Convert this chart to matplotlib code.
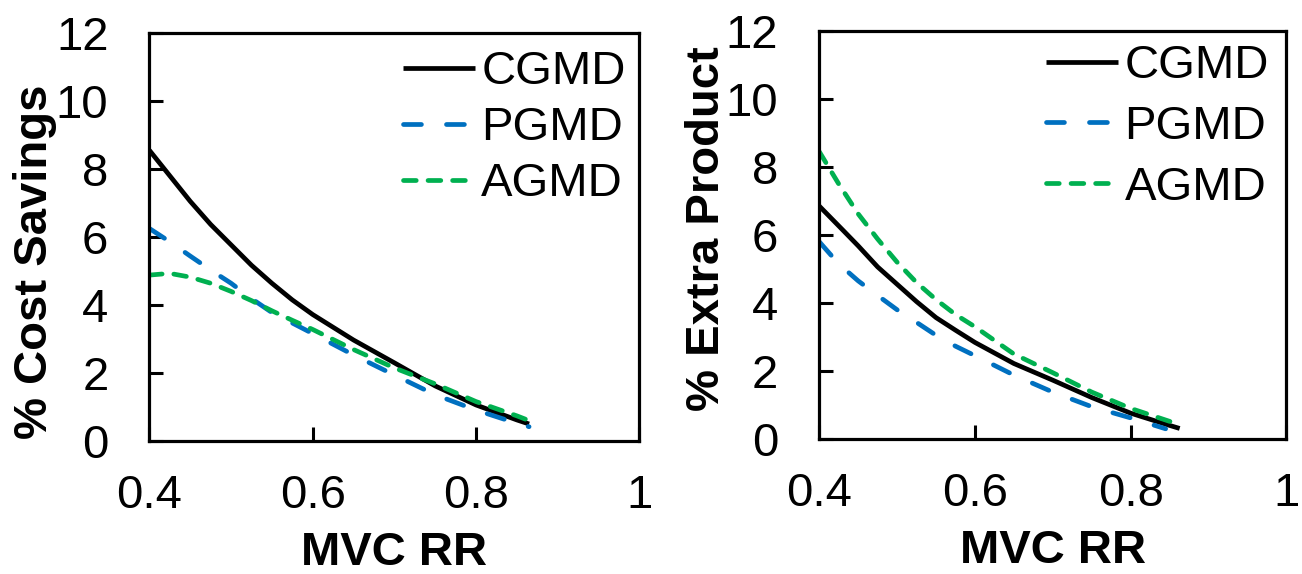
import matplotlib
matplotlib.use("Agg")
import matplotlib.pyplot as plt

plt.rcParams['font.family'] = ['Liberation Sans', 'DejaVu Sans']

# ---- data ----
rr_left = [0.40, 0.425, 0.45, 0.475, 0.50, 0.525, 0.55, 0.575, 0.60, 0.65, 0.70, 0.75, 0.80, 0.85, 0.865]
cost_cgmd = [8.55, 7.8, 7.05, 6.37, 5.77, 5.17, 4.64, 4.15, 3.72, 2.97, 2.3, 1.62, 1.06, 0.62, 0.5]
cost_pgmd = [6.25, 5.86, 5.44, 5.03, 4.64, 4.19, 3.78, 3.47, 3.16, 2.53, 1.94, 1.36, 0.91, 0.52, 0.42]
cost_agmd = [4.88, 4.93, 4.82, 4.64, 4.4, 4.13, 3.83, 3.55, 3.28, 2.69, 2.15, 1.68, 1.16, 0.74, 0.6]

rr_right_c = [0.40, 0.43, 0.45, 0.475, 0.50, 0.525, 0.55, 0.575, 0.60, 0.65, 0.70, 0.75, 0.80, 0.85, 0.863]
prod_cgmd = [6.85, 6.15, 5.68, 5.06, 4.55, 4.04, 3.57, 3.2, 2.84, 2.22, 1.73, 1.22, 0.76, 0.40, 0.31]
rr_right_p = [0.40, 0.425, 0.45, 0.475, 0.50, 0.525, 0.55, 0.575, 0.60, 0.65, 0.70, 0.75, 0.80, 0.845]
prod_pgmd = [5.8, 5.15, 4.65, 4.22, 3.8, 3.43, 3.05, 2.73, 2.45, 1.88, 1.38, 0.95, 0.62, 0.3]
rr_right_a = [0.40, 0.425, 0.45, 0.475, 0.50, 0.525, 0.55, 0.575, 0.60, 0.65, 0.70, 0.75, 0.80, 0.85, 0.86]
prod_agmd = [8.45, 7.5, 6.62, 5.88, 5.2, 4.6, 4.1, 3.66, 3.3, 2.5, 1.95, 1.38, 0.9, 0.52, 0.45]

labels = ["CGMD", "PGMD", "AGMD"]
xticks = [0.4, 0.6, 0.8, 1.0]
xticklabels = ["0.4", "0.6", "0.8", "1"]
yticks = [0, 2, 4, 6, 8, 10, 12]

colors = ["#000000", "#0070C0", "#00B050"]
dashes = [None, (3.8, 5.3), (2.7, 2.5)]

W, H = 1302, 574
fig = plt.figure(figsize=(W/100, H/100), dpi=100)
ax1 = fig.add_axes([149.4/W, 1-441/H, 489.9/W, 408/H])
ax2 = fig.add_axes([819.3/W, 1-439/H, 467/W, 408/H])

def draw(ax, series, ylabel, ylab_pos, leg_anchor, leg_spacing):
    for (x, y), lab, c, d in zip(series, labels, colors, dashes):
        line, = ax.plot(x, y, color=c, lw=3.4, label=lab,
                        solid_capstyle='butt', dash_capstyle='round',
                        solid_joinstyle='round', dash_joinstyle='round')
        if d is not None:
            line.set_dashes(d)
    ax.set_xlim(0.4, 1.0)
    ax.set_ylim(0, 12)
    ax.set_xticks(xticks)
    ax.set_xticklabels(xticklabels)
    ax.set_yticks(yticks)
    ax.tick_params(direction='in', length=10, width=2.2, labelsize=34)
    ax.tick_params(axis='x', pad=24)
    ax.tick_params(axis='y', pad=29.5)
    for s in ax.spines.values():
        s.set_linewidth(2.3)
    ax.set_xlabel("MVC RR", fontsize=34, fontweight='bold')
    ax.xaxis.set_label_coords(0.5, -0.22)
    ax.set_ylabel(ylabel, fontsize=34, fontweight='bold')
    ax.yaxis.set_label_coords(*ylab_pos)
    ax.legend(loc='upper right', bbox_to_anchor=leg_anchor, frameon=False,
              fontsize=34, handlelength=1.53, handletextpad=0.13,
              labelspacing=leg_spacing, borderpad=0.2, borderaxespad=0.17)

draw(ax1, [(rr_left, cost_cgmd), (rr_left, cost_pgmd), (rr_left, cost_agmd)],
     "% Cost Savings", (-0.188, 0.439), (1.008, 1.0), 0.25)
draw(ax2, [(rr_right_c, prod_cgmd), (rr_right_p, prod_pgmd), (rr_right_a, prod_agmd)],
     "% Extra Product", (-0.193, 0.515), (1.0, 1.0098), 0.35)

fig.savefig("out.png", dpi=100)
